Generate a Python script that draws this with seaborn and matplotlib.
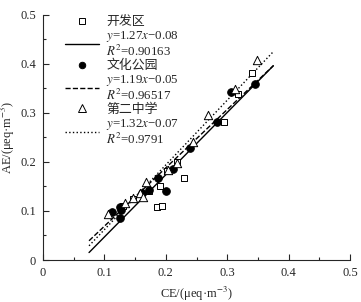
import numpy as np
import seaborn as sns
import matplotlib.pyplot as plt

# site names and fitted lines (slope, intercept, R2)
sites = ['开发区', '文化公园', '第二中学']
slopes = [1.27, 1.19, 1.32]
intercepts = [-0.08, -0.05, -0.07]
r2_labels = ['0.90163', '0.96517', '0.9791']
fit_range = [0.075, 0.375]

# CE / AE values
kfq_ce = [0.130, 0.147, 0.172, 0.190, 0.186, 0.194, 0.202, 0.218, 0.230, 0.294, 0.318, 0.340]
kfq_ae = [0.110, 0.125, 0.141, 0.150, 0.109, 0.110, 0.182, 0.199, 0.168, 0.282, 0.338, 0.381]
whgy_ce = [0.112, 0.125, 0.127, 0.125, 0.161, 0.172, 0.187, 0.200, 0.211, 0.240, 0.284, 0.306, 0.345]
whgy_ae = [0.097, 0.108, 0.102, 0.086, 0.136, 0.143, 0.168, 0.141, 0.186, 0.229, 0.282, 0.342, 0.358]
dezx_ce = [0.106, 0.134, 0.147, 0.158, 0.167, 0.163, 0.204, 0.218, 0.244, 0.268, 0.313, 0.349]
dezx_ae = [0.094, 0.116, 0.126, 0.137, 0.159, 0.129, 0.184, 0.197, 0.240, 0.296, 0.349, 0.408]

sns.set_style('ticks')
plt.rcParams['font.family'] = ['Liberation Serif', 'Noto Sans CJK SC']
plt.rcParams['mathtext.fontset'] = 'stix'
plt.rcParams['font.size'] = 9

fig = plt.figure(figsize=(3.61, 3.02), dpi=100)
ax = fig.add_axes([0.119, 0.139, 0.851, 0.812])

point_sets = [(kfq_ce, kfq_ae), (whgy_ce, whgy_ae), (dezx_ce, dezx_ae)]
markers = ['s', 'o', '^']
sizes = [22, 30, 36]
faces = ['white', 'black', 'white']
line_styles = ['-', '--', ':']

handles = []
labels = []
xs = np.linspace(fit_range[0], fit_range[1], 50)
for i, (ce, ae) in enumerate(point_sets):
    sns.scatterplot(x=ce, y=ae, marker=markers[i], s=sizes[i], color=faces[i],
                    edgecolor='black', linewidth=0.7, ax=ax, zorder=3)
    sns.lineplot(x=xs, y=slopes[i] * xs + intercepts[i], color='black',
                 linestyle=line_styles[i], linewidth=1.0, ax=ax, zorder=2)
    handles.append(plt.Line2D([], [], marker=markers[i], linestyle='none',
                              markersize=np.sqrt(sizes[i]) * 0.85, markerfacecolor=faces[i],
                              markeredgecolor='black', markeredgewidth=0.7))
    labels.append(sites[i])
    handles.append(plt.Line2D([], [], color='black', linestyle=line_styles[i], linewidth=1.0))
    labels.append('$y$=%.2f$x$\u2212%.2f\n$R^2$=%s' % (slopes[i], -intercepts[i], r2_labels[i]))

leg = ax.legend(handles, labels, loc='upper left', bbox_to_anchor=(0.055, 1.015), frameon=False,
                fontsize=9.3, handlelength=2.6, handletextpad=0.6, labelspacing=0.05,
                borderaxespad=0)
for t in leg.get_texts():
    t.set_linespacing(1.0)

ax.set_xlim(0, 0.5)
ax.set_ylim(0, 0.5)
ax.set_xticks([0, 0.1, 0.2, 0.3, 0.4, 0.5])
ax.set_xticklabels(['0', '0.1', '0.2', '0.3', '0.4', '0.5'])
ax.set_yticks([0, 0.1, 0.2, 0.3, 0.4, 0.5])
ax.set_yticklabels(['0', '0.1', '0.2', '0.3', '0.4', '0.5'])
ax.set_xticks(np.arange(0.05, 0.5, 0.1), minor=True)
ax.set_yticks(np.arange(0.05, 0.5, 0.1), minor=True)
ax.tick_params(which='major', direction='in', length=4, width=0.8, pad=5)
ax.tick_params(which='minor', direction='in', length=2.5, width=0.8)
ax.set_xlabel('CE/(μeq·m$^{-3}$)', fontsize=9)
ax.set_ylabel('AE/(μeq·m$^{-3}$)', fontsize=9, labelpad=2)
sns.despine(ax=ax)
for sp in ax.spines.values():
    sp.set_linewidth(0.8)

fig.savefig('out.png', dpi=100)
